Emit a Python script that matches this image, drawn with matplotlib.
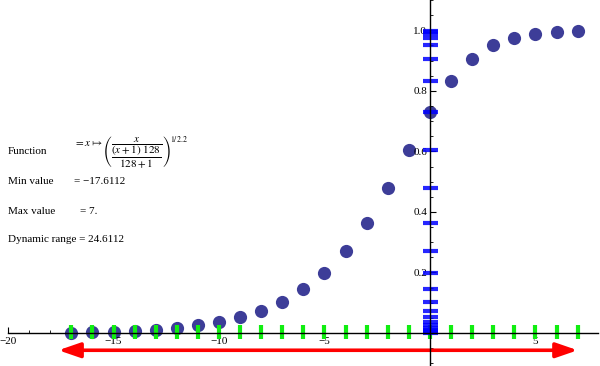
import matplotlib
matplotlib.use("Agg")
import matplotlib.pyplot as plt
import numpy as np

# ---- data ----
x_values = [-17, -16, -15, -14, -13, -12, -11, -10, -9, -8, -7, -6, -5, -4, -3, -2, -1, 0, 1, 2, 3, 4, 5, 6, 7]
y_values = [0.000, 0.002, 0.004, 0.007, 0.010, 0.017, 0.026, 0.036, 0.053, 0.074, 0.103, 0.145, 0.199, 0.271, 0.365,
            0.479, 0.604, 0.729, 0.832, 0.904, 0.950, 0.974, 0.987, 0.993, 0.997]
min_value = -17.6112
max_value = 7.0
dynamic_range = 24.6112
x_major_ticks = [-20, -15, -10, -5, 5]
x_major_labels = ["\u221220", "\u221215", "\u221210", "\u22125", "5"]
y_major_ticks = [0.2, 0.4, 0.6, 0.8, 1.0]
y_major_labels = ["0.2", "0.4", "0.6", "0.8", "1.0"]

plt.rcParams['font.family'] = ['Liberation Serif', 'DejaVu Serif']
plt.rcParams['mathtext.fontset'] = 'stix'

W, H = 600, 366
fig = plt.figure(figsize=(W / 100, H / 100), dpi=100)
ax = fig.add_axes([0, 0, 1, 1])
ax.set_xlim(-20.38, 8.06)
ax.set_ylim(-0.109, 1.099)
ax.patch.set_visible(False)

for s in ['top', 'right']:
    ax.spines[s].set_visible(False)
ax.spines['left'].set_position(('data', 0))
ax.spines['bottom'].set_position(('data', 0))
ax.spines['left'].set_bounds(-0.109, 1.099)
ax.spines['bottom'].set_bounds(-20, 7.95)
for s in ['left', 'bottom']:
    ax.spines[s].set_linewidth(1.0)
    ax.spines[s].set_zorder(5)

ax.set_xticks(x_major_ticks)
ax.set_xticklabels(x_major_labels)
ax.set_xticks(np.arange(-20, 8, 1), minor=True)
ax.set_yticks(y_major_ticks)
ax.set_yticklabels(y_major_labels)
ax.set_yticks(np.arange(-0.1, 1.1001, 0.05), minor=True)
ax.tick_params(which='major', direction='in', length=4, width=0.8, labelsize=8, pad=3)
ax.tick_params(which='minor', direction='in', length=2.5, width=0.6)
ax.tick_params(axis='y', which='major', pad=2)

# points
ax.plot(x_values, y_values, 'o', color='#3d3d98', markersize=9.5, markeredgewidth=0, zorder=1)
# green ticks on x axis
ax.vlines(x_values, -0.021, 0.027, color='#11ee11', lw=3, zorder=2)
# blue ticks on y axis
ax.hlines(y_values, -0.35, 0.36, color='#0000ff', lw=3, alpha=0.85, zorder=2)
# red double-headed arrow
ax.annotate('', xy=(min_value, -0.057), xytext=(max_value, -0.057),
            arrowprops=dict(arrowstyle='<|-|>,head_length=0.87,head_width=0.3', color='#ff0000',
                            lw=2.6, shrinkA=0, shrinkB=0, mutation_scale=15), zorder=3)

def ftext(px, py, s, size=8):
    fig.text(px / W, 1 - py / H, s, fontsize=size, va='center', ha='left')

ftext(8, 152, "Function")
ftext(74, 152, r"$= x \mapsto \left(\dfrac{x}{\dfrac{(x+1)\ 128}{128+1}}\right)^{1/2.2}$", size=8)
ftext(8, 182, "Min value")
ftext(74, 182, "= \u2212%.4f" % abs(min_value))
ftext(8, 211, "Max value")
ftext(80, 211, "= %g." % max_value)
ftext(8, 240, "Dynamic range = %.4f" % dynamic_range)

fig.savefig("out.png", dpi=100)
